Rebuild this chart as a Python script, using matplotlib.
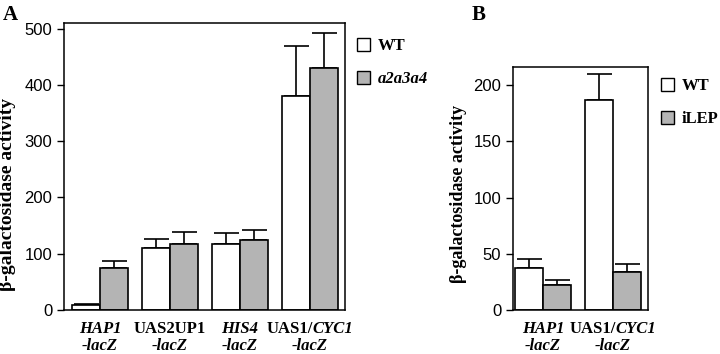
import matplotlib
matplotlib.use('Agg')
import matplotlib.pyplot as plt
import numpy as np
from matplotlib.offsetbox import TextArea, HPacker, VPacker, AnnotationBbox

# panel A data
cats_a = ['HAP1', 'UAS2UP1', 'HIS4', 'UAS1/CYC1']
wt_a = [8, 110, 117, 380]
wt_a_err = [2, 17, 20, 90]
mut_a = [75, 117, 125, 430]
mut_a_err = [12, 22, 17, 62]

# panel B data
cats_b = ['HAP1', 'UAS1/CYC1']
wt_b = [37, 187]
wt_b_err = [8, 23]
mut_b = [22, 34]
mut_b_err = [5, 7]

# how each category label is styled: (text, italic) pieces
label_parts = {
    'HAP1': [('HAP1', True)],
    'UAS2UP1': [('UAS2UP1', False)],
    'HIS4': [('HIS4', True)],
    'UAS1/CYC1': [('UAS1/', False), ('CYC1', True)],
}

GREY = '#b4b4b4'
SERIF = 'Liberation Serif'
SANS = 'Liberation Sans'

fig = plt.figure(figsize=(7.2, 3.54), dpi=100)
fig.set_facecolor('white')


def cat_label(ax, x, name):
    row1 = [TextArea(t, textprops=dict(family=SERIF, weight='bold', size=12,
                                        style='italic' if it else 'normal'))
            for t, it in label_parts[name]]
    line1 = HPacker(children=row1, pad=0, sep=0, align='baseline')
    line2 = TextArea('-lacZ', textprops=dict(family=SERIF, weight='bold', size=12, style='italic'))
    box = VPacker(children=[line1, line2], pad=0, sep=0.5, align='center')
    ab = AnnotationBbox(box, (x, 0), xycoords=ax.get_xaxis_transform(),
                        xybox=(0, -8), boxcoords='offset points',
                        box_alignment=(0.5, 1), frameon=False, pad=0)
    ax.add_artist(ab)


def panel(ax, cats, wt, wt_err, mut, mut_err, mut_name, ylim, yticks, xlim,
          ylab_size, ylab_pos, leg_pos):
    x = np.arange(len(cats))
    w = 0.4
    ax.bar(x - w / 2, wt, w, color='white', edgecolor='black', linewidth=1.2, label='WT', zorder=2)
    ax.bar(x + w / 2, mut, w, color=GREY, edgecolor='black', linewidth=1.2, label=mut_name, zorder=2)
    ax.errorbar(x - w / 2, wt, yerr=[np.zeros(len(wt)), wt_err], fmt='none', ecolor='black',
                elinewidth=1.2, capsize=9, capthick=1.2, zorder=1)
    ax.errorbar(x + w / 2, mut, yerr=[np.zeros(len(mut)), mut_err], fmt='none', ecolor='black',
                elinewidth=1.2, capsize=9, capthick=1.2, zorder=1)
    ax.set_ylim(*ylim)
    ax.set_xlim(*xlim)
    ax.set_yticks(yticks)
    ax.set_xticks([])
    ax.tick_params(axis='y', direction='out', length=5, width=1, labelsize=12)
    for lab in ax.get_yticklabels():
        lab.set_family(SANS)
    for s in ax.spines.values():
        s.set_linewidth(1.1)
    ax.set_ylabel('β-galactosidase activity', family=SERIF, weight='bold', size=ylab_size)
    ax.yaxis.set_label_coords(*ylab_pos)
    for xi, c in zip(x, cats):
        cat_label(ax, xi, c)
    leg = ax.legend(loc='upper left', bbox_to_anchor=leg_pos, frameon=False,
                    prop=dict(family=SERIF, weight='bold', size=12),
                    handlelength=0.8, handleheight=0.8, handletextpad=0.45,
                    labelspacing=1.0, borderaxespad=0, borderpad=0)
    for p in leg.get_patches():
        p.set_linewidth(1.0)
    return leg


# panel A
ax_a = fig.add_axes([0.0889, 0.1243, 0.3903, 0.8107])
leg_a = panel(ax_a, cats_a, wt_a, wt_a_err, mut_a, mut_a_err, 'a2a3a4',
              (0, 510), [0, 100, 200, 300, 400, 500], (-0.514, 3.5),
              14, (-0.171, 0.404), (1.043, 0.948))
leg_a.get_texts()[1].set_style('italic')

# panel B
ax_b = fig.add_axes([0.7125, 0.1243, 0.1875, 0.6864])
panel(ax_b, cats_b, wt_b, wt_b_err, mut_b, mut_b_err, 'iLEP',
      (0, 216), [0, 50, 100, 150, 200], (-0.43, 1.5),
      13, (-0.34, 0.477), (1.096, 0.955))

fig.text(0.004, 0.985, 'A', family=SERIF, weight='bold', size=15, va='top')
fig.text(0.655, 0.985, 'B', family=SERIF, weight='bold', size=15, va='top')

fig.savefig('out.png', dpi=100, facecolor='white')
